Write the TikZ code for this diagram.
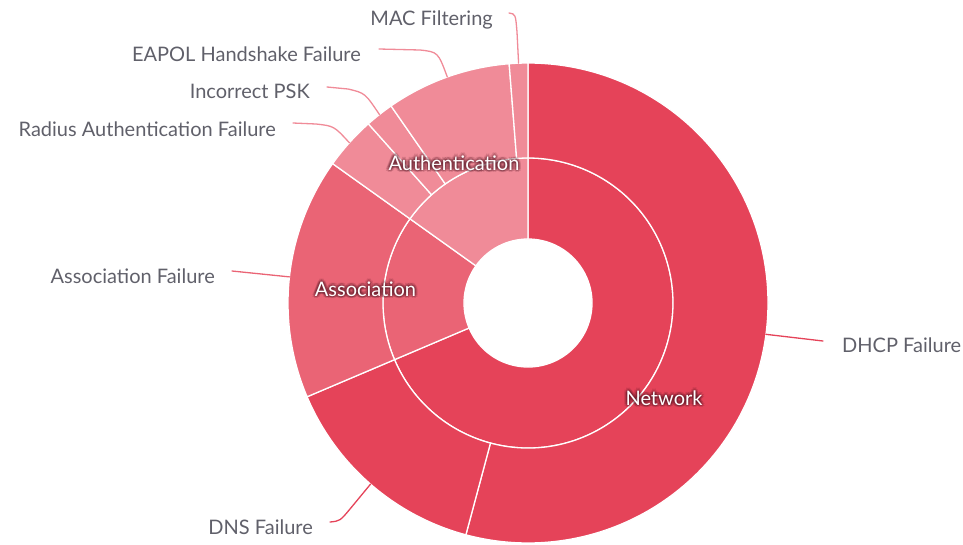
\documentclass[tikz,border=0pt]{standalone}
\usepackage{fontspec}
\setmainfont{Lato}
\usetikzlibrary{calc}

\definecolor{netred}{RGB}{229,67,89}
\definecolor{assocred}{RGB}{234,100,117}
\definecolor{authpink}{RGB}{240,139,152}
\definecolor{labelgrey}{RGB}{96,96,106}
\definecolor{glowc}{RGB}{80,18,32}

\newcommand\chartfont{\fontsize{20}{22}\selectfont}

% one annular sector: inner radius, outer radius, start angle, end angle, colour
\newcommand\ringsector[5]{%
  \fill[#5,draw=white,line width=1.3pt]
    (#3:#1) arc[start angle=#3,end angle=#4,radius=#1]
    -- (#4:#2) arc[start angle=#4,end angle=#3,radius=#2] -- cycle;}

% white inner-ring label with a soft dark halo
\newcommand\glowlabel[3]{%
  \foreach \a [count=\i] in {0,45,...,315}{%
    \node[glow,name=#1h\i] at ($(#2)+(\a:1.4)$) {#3};
    \node[glow,name=#1k\i] at ($(#2)+(\a+22.5:2.8)$) {#3};
  }
  \node[inlbl,name=#1] at (#2) {#3};}

\begin{document}
\begin{tikzpicture}[x=1pt,y=1pt,
  lbl/.style={font=\chartfont,text=labelgrey,inner sep=0pt},
  inlbl/.style={font=\chartfont,text=white,inner sep=0pt},
  glow/.style={font=\chartfont,text=glowc,text opacity=0.16,inner sep=0pt},
  leader/.style={line width=1.3pt,line cap=round}]

\useasboundingbox (0,0) rectangle (963,-544);

\begin{scope}[shift={(528,-303)}]
  % inner ring: categories
  \ringsector{64}{145}{203}{450}{netred}
  \ringsector{64}{145}{144.5}{203}{assocred}
  \ringsector{64}{145}{90}{144.5}{authpink}
  % outer ring: failure reasons
  \ringsector{145}{240}{255}{450}{netred}
  \ringsector{145}{240}{203}{255}{netred}
  \ringsector{145}{240}{144.5}{203}{assocred}
  \ringsector{145}{240}{131.7}{144.5}{authpink}
  \ringsector{145}{240}{124.8}{131.7}{authpink}
  \ringsector{145}{240}{94.5}{124.8}{authpink}
  \ringsector{145}{240}{90}{94.5}{authpink}
  % label anchors on the outer rim
  \coordinate (macrim) at (92.25:240);
  \coordinate (eapolrim) at (109.65:240);
  \coordinate (pskrim) at (128.25:240);
  \coordinate (radrim) at (138.1:240);
  \coordinate (assocrim) at (173.75:240);
  \coordinate (dnsrim) at (229:240);
  \coordinate (dhcprim) at (352.5:240);
\end{scope}

% outer labels
\node[lbl,anchor=base east] (maclbl) at (493,-25) {MAC Filtering};
\node[lbl,anchor=base east] (eapollbl) at (361,-61.5) {EAPOL Handshake Failure};
\node[lbl,anchor=base east] (psklbl) at (310,-98) {Incorrect PSK};
\node[lbl,anchor=base east] (radlbl) at (276,-136.5) {Radius Authentication Failure};
\node[lbl,anchor=base east] (assoclbl) at (215,-283) {Association Failure};
\node[lbl,anchor=base east] (dnslbl) at (313,-534) {DNS Failure};
\node[lbl,anchor=base west] (dhcplbl) at (842,-352.5) {DHCP Failure};

% leader line ends beside the labels
\coordinate (macend) at (509,-13);
\coordinate (eapolend) at (379,-49);
\coordinate (pskend) at (327,-87);
\coordinate (radend) at (293,-123);
\coordinate (assocend) at (232,-271);
\coordinate (dnsend) at (330,-522);
\coordinate (dhcpend) at (823,-341);

\draw[leader,authpink] (macrim) -- (517,-32) .. controls (515.5,-14) .. (macend);
\draw[leader,authpink] (eapolrim) .. controls (438,-52) .. (420,-50) -- (eapolend);
\draw[leader,authpink] (pskrim) .. controls (365,-93) .. (348,-89) -- (pskend);
\draw[leader,authpink] (radrim) .. controls (334,-126) .. (316,-124) -- (radend);
\draw[leader,assocred] (assocrim) -- (assocend);
\draw[leader,netred] (dnsrim) -- (350,-509) .. controls (340,-521) .. (dnsend);
\draw[leader,netred] (dhcprim) -- (dhcpend);

% inner ring labels
\glowlabel{authlbl}{454,-163}{Authentication}
\glowlabel{assoclbl}{365.5,-289}{Association}
\glowlabel{netlbl}{664,-398}{Network}

\end{tikzpicture}
\end{document}
